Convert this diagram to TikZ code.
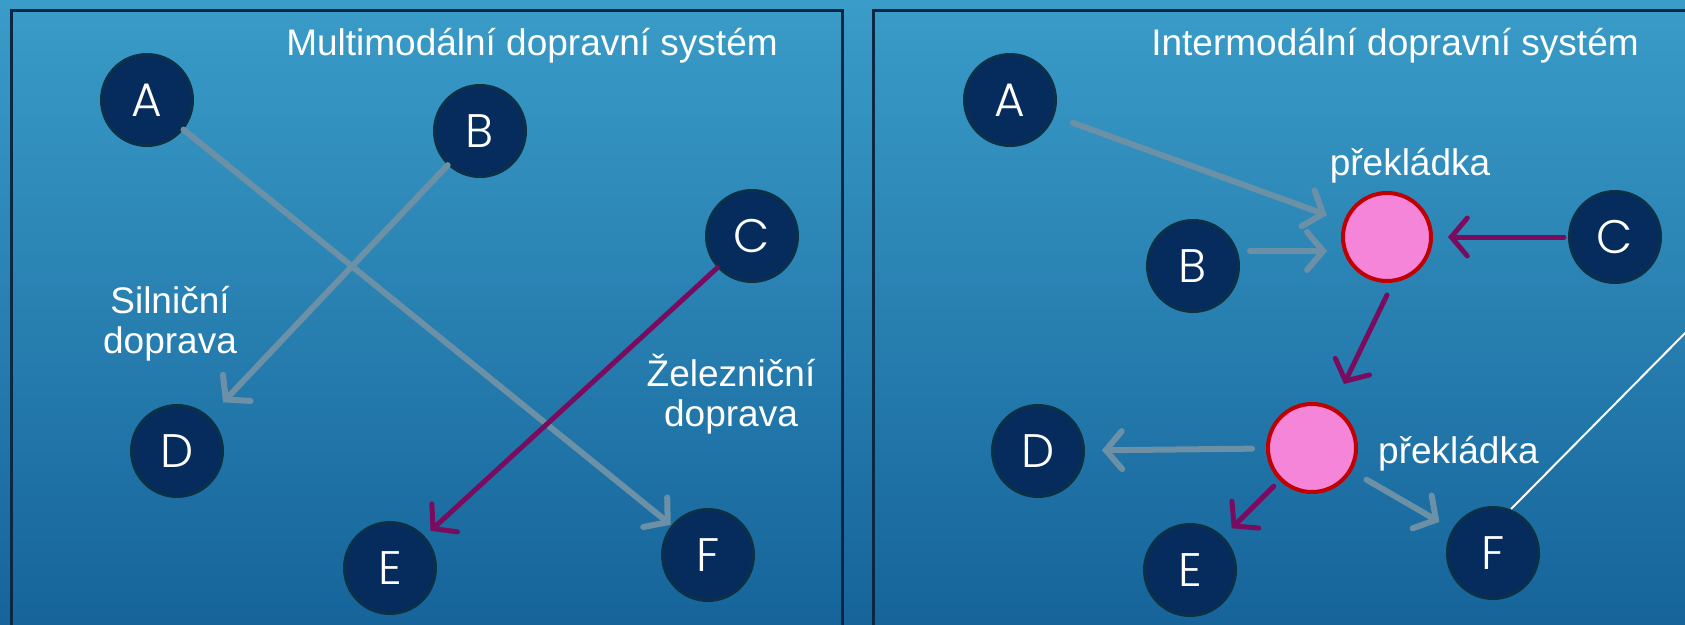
\documentclass[tikz,border=0pt]{standalone}
\usepackage{fontspec}
\setmainfont{Liberation Sans}
\newfontfamily\letterfont{Poppins Light}
\usetikzlibrary{arrows.meta,calc}
\definecolor{bgtop}{RGB}{58,156,200}
\definecolor{bgbot}{RGB}{22,100,154}
\definecolor{navy}{RGB}{5,44,92}
\definecolor{navyedge}{RGB}{12,48,72}
\definecolor{panelline}{RGB}{10,40,65}
\definecolor{pinkfill}{RGB}{245,133,217}
\definecolor{hubred}{RGB}{192,0,0}
\definecolor{roadgrey}{RGB}{108,145,166}
\definecolor{railpurple}{RGB}{122,12,95}
\begin{document}
\begin{tikzpicture}[x=1pt,y=-1pt,
  stop/.style={circle, fill=navy, draw=navyedge, line width=3pt, minimum size=91pt, inner sep=0pt, text=white, font=\letterfont\fontsize{47}{47}\selectfont},
  hub/.style={circle, fill=pinkfill, draw=hubred, line width=4pt, minimum size=88pt, inner sep=0pt},
  road/.style={draw=roadgrey, line width=6pt, line cap=round, -{Straight Barb[length=16pt,width=38pt,line cap=round]}},
  rail/.style={draw=railpurple, line width=5pt, line cap=round, -{Straight Barb[length=16pt,width=38pt,line cap=round]}},
  lbl/.style={text=white, font=\fontsize{37}{40}\selectfont, align=center, inner sep=0pt},
  panel/.style={draw=panelline, line width=3pt}
]
\useasboundingbox (0,0) rectangle (1685,624);
\shade[top color=bgtop, bottom color=bgbot] (0,0) rectangle (1685,624);
\draw[panel] (11,10) rectangle (842,660);
\draw[panel] (873,10) rectangle (1720,660);

% left panel
\node[lbl, anchor=base] (t1) at (532,55) {Multimodální dopravní systém};
\node[lbl, anchor=base] (l1) at (170,353) {Silniční\\doprava};
\node[lbl, anchor=base] (l2) at (731,426) {Železniční\\doprava};

\node[stop] (A) at (147,100) {A};
\node[stop] (B) at (480,131) {B};
\node[stop] (C) at (752,236) {C};
\node[stop] (D) at (177,451) {D};
\node[stop] (E) at (390,568) {E};
\node[stop] (F) at (708,555) {F};

\draw[road, shorten >=1pt] (A) -- (F);
\draw[road, shorten >=20pt] (B) -- (D);
\draw[rail, shorten >=8pt] (C) -- (E);

% right panel
\node[lbl, anchor=base] (t2) at (1395,55) {Intermodální dopravní systém};

\node[stop] (A2) at (1010,100) {A};
\node[stop] (B2) at (1193,266) {B};
\node[stop] (C2) at (1615,237) {C};
\node[stop] (D2) at (1038,451) {D};
\node[stop] (E2) at (1190,570) {E};
\node[stop] (F2) at (1493,553) {F};
\node[hub] (P1) at (1387,237) {};
\node[hub] (P2) at (1312,448) {};
\node[lbl, anchor=base] (h1) at (1410,175) {překládka};
\node[lbl, anchor=base west] (h2) at (1378,463) {překládka};

\draw[road, shorten <=20pt, shorten >=18pt] (A2) -- (P1);
\draw[road] ([xshift=10pt,yshift=15pt]B2.east) -- ([xshift=-14pt,yshift=-14pt]P1.west);
\draw[rail, shorten <=4pt, shorten >=15pt] (C2) -- (P1);
\draw[rail] ($(P1)+(0,58)$) -- ($(P2)+(32,-64)$);
\draw[road, shorten <=14pt, shorten >=17pt] (P2) -- (D2);
\draw[rail, shorten <=8pt, shorten >=12pt] (P2) -- (E2);
\draw[road, shorten <=17pt, shorten >=15pt] (P2) -- (F2);

\coordinate (wend) at (1700,318);
\draw[white, line width=2pt] ($(F2)+(18,-44)$) -- (wend);
\end{tikzpicture}
\end{document}
